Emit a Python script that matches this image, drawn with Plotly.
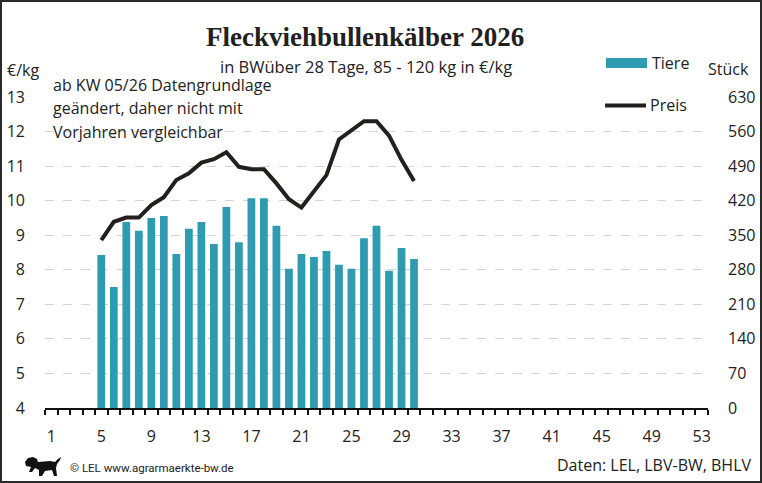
import plotly.graph_objects as go

# ---- data ----
weeks = list(range(5, 31))
tiere = [310, 245, 377, 359, 385, 389, 312, 363, 377, 332, 407, 336, 425,
         425, 369, 282, 312, 306, 318, 290, 282, 344, 369, 278, 324, 302]
preis = [8.86, 9.39, 9.51, 9.51, 9.87, 10.10, 10.60, 10.79, 11.10, 11.20,
         11.40, 10.98, 10.91, 10.91, 10.50, 10.04, 9.80, 10.26, 10.74, 11.77,
         12.02, 12.30, 12.30, 11.88, 11.18, 10.57]
x_tick_vals = list(range(1, 54, 4))
title_text = "Fleckviehbullenkälber 2026"
subtitle_text = "in BWüber 28 Tage, 85 - 120 kg in €/kg"
note_lines = ["ab KW 05/26 Datengrundlage", "geändert, daher nicht mit", "Vorjahren vergleichbar"]

W, H = 762, 483
L, R, T, B = 45, 54, 97, 75
PW, PH = W - L - R, H - T - B


def px(x):
    return (x - L) / PW


def py(y):
    return (H - B - y) / PH


BAR = "#2e9bb0"
LINE = "#231f1e"
TXT = "#222222"
FONT = "Open Sans"

fig = go.Figure()
fig.add_trace(go.Bar(x=weeks, y=tiere, marker=dict(color=BAR, line=dict(width=0)),
                     name="Tiere", yaxis="y", showlegend=False))
fig.add_trace(go.Scatter(x=weeks, y=preis, mode="lines", name="Preis",
                         line=dict(color=LINE, width=4), yaxis="y2", showlegend=False))

fig.update_layout(
    width=W, height=H,
    margin=dict(l=L, r=R, t=T, b=B, autoexpand=False),
    paper_bgcolor="white", plot_bgcolor="white",
    bargap=0.38,
    font=dict(family=FONT, size=16, color=TXT),
    xaxis=dict(range=[0.5, 53.5], tickmode="array", tickvals=x_tick_vals,
               ticks="", showgrid=False, zeroline=False, automargin=False,
               showline=True, linecolor="#111111", linewidth=2,
               ticklabelstandoff=13,
               tickfont=dict(size=16, color=TXT),
               minor=dict(tick0=0.5, dtick=1, ticks="outside", ticklen=5,
                          tickcolor="#111111", tickwidth=2, showgrid=False)),
    yaxis=dict(range=[0, 630], dtick=70, side="right", showgrid=True,
               gridcolor="#d4d4d4", griddash="dash", gridwidth=1, automargin=False,
               zeroline=False, showline=False, ticks="",
               ticklabelstandoff=19, tickfont=dict(size=16, color=TXT)),
    yaxis2=dict(range=[4, 13], dtick=1, side="left", overlaying="y", automargin=False,
                showgrid=False, zeroline=False, showline=False, ticks="",
                ticklabelstandoff=19, tickfont=dict(size=16, color=TXT)),
)

ann = []
ann.append(dict(text="<b>" + title_text + "</b>", x=px(365), y=py(37), xref="paper", yref="paper",
                xanchor="center", yanchor="middle", showarrow=False,
                font=dict(family="Liberation Serif", size=27, color="#231f1e")))
ann.append(dict(text=subtitle_text, x=px(366), y=py(66), xref="paper", yref="paper",
                xanchor="center", yanchor="middle", showarrow=False,
                font=dict(size=16.5, color=TXT)))
ann.append(dict(text="€/kg", x=px(5), y=py(70), xref="paper", yref="paper",
                xanchor="left", yanchor="middle", showarrow=False, font=dict(size=16, color=TXT)))
ann.append(dict(text="Stück", x=px(706), y=py(69), xref="paper", yref="paper",
                xanchor="left", yanchor="middle", showarrow=False, font=dict(size=16, color=TXT)))
for i, line in enumerate(note_lines):
    ann.append(dict(text=line, x=px(51), y=py(85 + 23.5 * i), xref="paper", yref="paper",
                    xanchor="left", yanchor="middle", showarrow=False, font=dict(size=16, color=TXT)))
ann.append(dict(text="Tiere", x=px(650), y=py(63), xref="paper", yref="paper",
                xanchor="left", yanchor="middle", showarrow=False, font=dict(size=16, color=TXT)))
ann.append(dict(text="Preis", x=px(648), y=py(105), xref="paper", yref="paper",
                xanchor="left", yanchor="middle", showarrow=False, font=dict(size=16, color=TXT)))
ann.append(dict(text="© LEL www.agrarmaerkte-bw.de", x=px(68), y=py(468), xref="paper", yref="paper",
                xanchor="left", yanchor="middle", showarrow=False,
                font=dict(family="Roboto", size=11.5, color=TXT)))
ann.append(dict(text="Daten: LEL, LBV-BW, BHLV", x=px(754), y=py(465), xref="paper", yref="paper",
                xanchor="right", yanchor="middle", showarrow=False, font=dict(size=16, color=TXT)))
fig.update_layout(annotations=ann)

shapes = []
# legend swatches
shapes.append(dict(type="rect", xref="paper", yref="paper", x0=px(606), x1=px(647), y0=py(68), y1=py(58),
                   fillcolor=BAR, line=dict(width=0)))
shapes.append(dict(type="line", xref="paper", yref="paper", x0=px(605), x1=px(646), y0=py(105.5), y1=py(105.5),
                   line=dict(color=LINE, width=4)))
# small lion emblem (rough silhouette)
lion = [(25, 462), (28, 458), (33, 457), (37, 459), (38, 462), (50, 461), (55, 462), (58, 459),
        (61, 457), (60, 460), (57, 464), (56, 468), (57, 476), (54, 476), (52, 470), (45, 471),
        (42, 476), (39, 476), (39, 470), (35, 468), (32, 472), (29, 472), (31, 467), (26, 466)]
path = "M " + " L ".join(f"{px(a):.5f},{py(b):.5f}" for a, b in lion) + " Z"
shapes.append(dict(type="path", xref="paper", yref="paper", path=path,
                   fillcolor="#111111", line=dict(width=0)))
# outer frame
shapes.append(dict(type="rect", xref="paper", yref="paper", x0=px(1), x1=px(761), y0=py(482), y1=py(1),
                   line=dict(color="#2a2a2a", width=2), fillcolor="rgba(0,0,0,0)", layer="above"))
fig.update_layout(shapes=shapes)

fig.write_html("out.html")
